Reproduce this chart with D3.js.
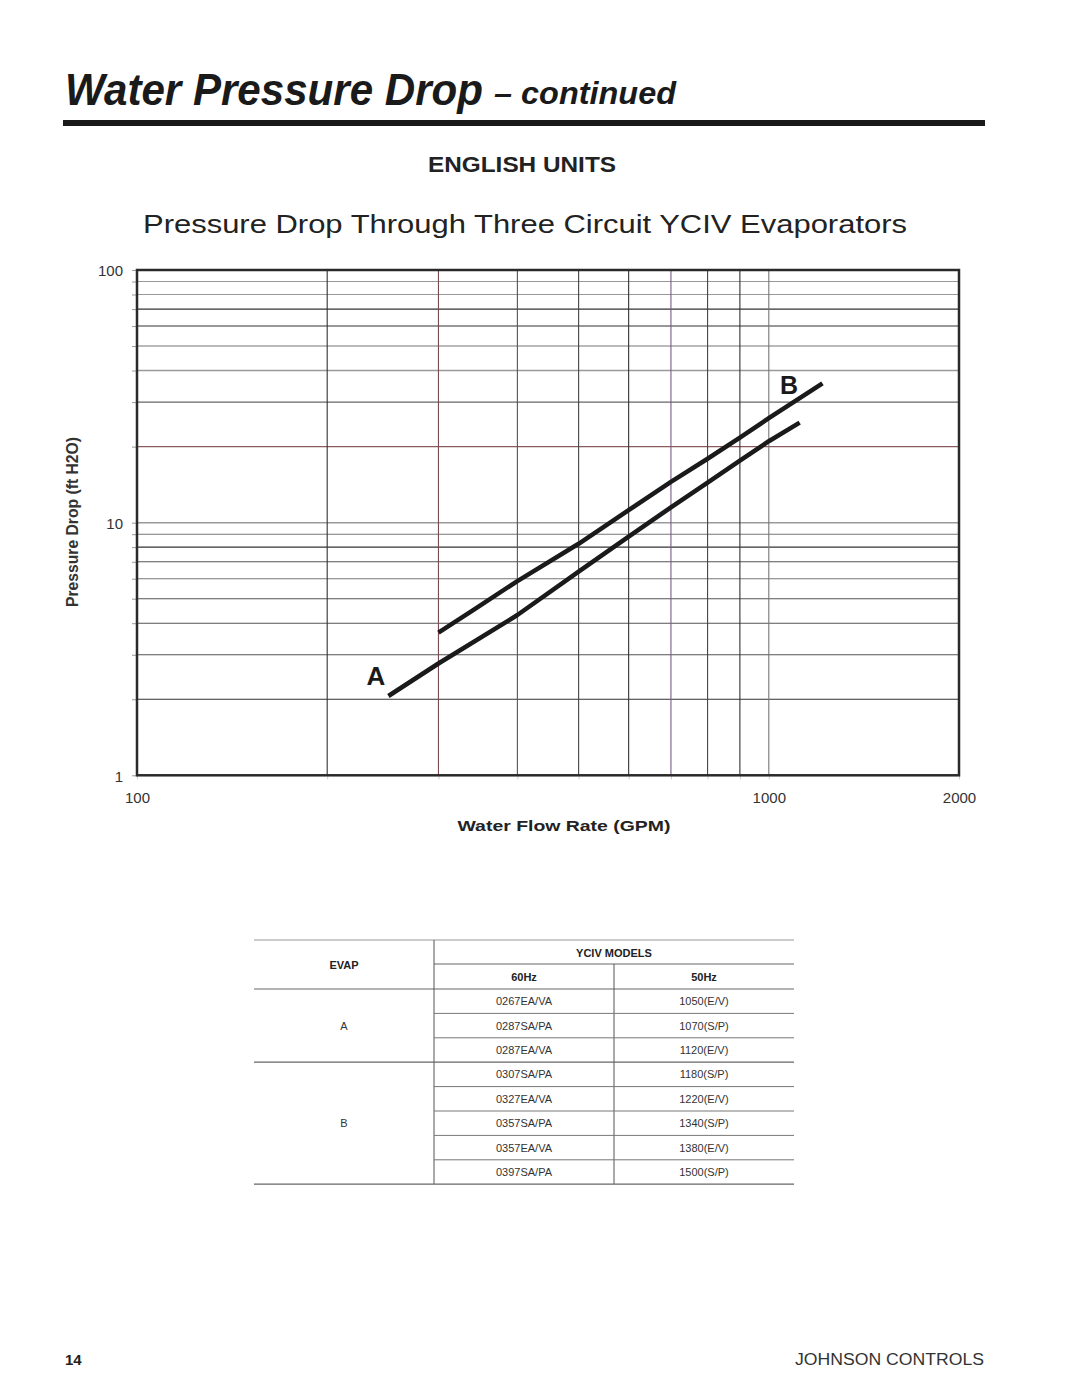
<!DOCTYPE html>
<html><head><meta charset="utf-8">
<script src="https://cdn.jsdelivr.net/npm/d3@7"></script>
<style>body{margin:0;background:#fff}svg{display:block}</style>
</head><body>
<script>
// ---------- data ----------
const flowGridValues = [200,300,400,500,600,700,800,900,1000];
const dropGridValues = [2,3,4,5,6,7,8,9,10,20,30,40,50,60,70,80,90];
const xTickLabels = [100,1000,2000];
const yTickLabels = [1,10,100];
const curveA_flow = [250,300,400,500,600,700,800,900,1000,1119];
const curveA_drop = [2.06,2.77,4.31,6.40,8.80,11.5,14.4,17.6,21.0,24.9];
const curveB_flow = [300,340,400,500,600,700,800,900,1000,1216];
const curveB_drop = [3.67,4.50,5.87,8.25,11.2,14.5,17.9,21.7,25.9,35.6];
const tableEvap = ["A","B"];
const tableRows60 = ["0267EA/VA","0287SA/PA","0287EA/VA","0307SA/PA","0327EA/VA","0357SA/PA","0357EA/VA","0397SA/PA"];
const tableRows50 = ["1050(E/V)","1070(S/P)","1120(E/V)","1180(S/P)","1220(E/V)","1340(S/P)","1380(E/V)","1500(S/P)"];
const tableGroupOf = ["A","A","A","B","B","B","B","B"];

// ---------- styles (separate from data) ----------
const vGridColor = {200:"#333",300:"#7a4a52",400:"#555",500:"#444",600:"#333",700:"#7a5a86",800:"#444",900:"#333",1000:"#777"};
const hGridColor = {2:"#333",3:"#555",4:"#555",5:"#555",6:"#777",7:"#555",8:"#333",9:"#777",10:"#999",20:"#8a5a5e",30:"#666",40:"#999",50:"#777",60:"#333",70:"#333",80:"#999",90:"#999"};

const W=1080,H=1397;
const svg=d3.select("body").append("svg").attr("width",W).attr("height",H);
const narrow='"Liberation Sans Narrow","Arial Narrow","Liberation Sans",Arial,sans-serif';
const sans='"Liberation Sans",Arial,Helvetica,sans-serif';

// header
svg.append("text").attr("x",65).attr("y",105).attr("font-family",narrow).attr("font-weight","bold")
  .attr("font-style","italic").attr("font-size",44).attr("fill","#1a1a1a")
  .attr("textLength",418).attr("lengthAdjust","spacingAndGlyphs").text("Water Pressure Drop");
svg.append("text").attr("x",494).attr("y",104).attr("font-family",narrow).attr("font-weight","bold")
  .attr("font-style","italic").attr("font-size",31).attr("fill","#1a1a1a")
  .attr("textLength",182).attr("lengthAdjust","spacingAndGlyphs").text("– continued");
svg.append("rect").attr("x",63).attr("y",120).attr("width",922).attr("height",6).attr("fill","#1a1a1a");
svg.append("text").attr("x",522).attr("y",172).attr("text-anchor","middle").attr("font-family",narrow)
  .attr("font-weight","bold").attr("font-size",22).attr("fill","#222")
  .attr("textLength",188).attr("lengthAdjust","spacingAndGlyphs").text("ENGLISH UNITS");
svg.append("text").attr("x",525).attr("y",233).attr("text-anchor","middle").attr("font-family",sans)
  .attr("font-size",26).attr("fill","#222")
  .attr("textLength",764).attr("lengthAdjust","spacingAndGlyphs").text("Pressure Drop Through Three Circuit YCIV Evaporators");

// chart
const x=d3.scaleLog().domain([100,2000]).range([137,959]);
const y=d3.scaleLog().domain([1,100]).range([775.3,270]);
const g=svg.append("g");

// gridlines
g.selectAll("line.h").data(dropGridValues).join("line").attr("class","h")
  .attr("x1",x(100)).attr("x2",x(2000)).attr("y1",d=>y(d)).attr("y2",d=>y(d))
  .attr("stroke",d=>hGridColor[d]).attr("stroke-width",d=>d===40||d===10?1.5:1.1);
g.selectAll("line.v").data(flowGridValues).join("line").attr("class","v")
  .attr("y1",y(1)).attr("y2",y(100)).attr("x1",d=>x(d)).attr("x2",d=>x(d))
  .attr("stroke",d=>vGridColor[d]).attr("stroke-width",1.1);

// axes
const yTicks=Array.from(new Set(yTickLabels.concat(dropGridValues))).sort((a,b)=>a-b);
const yAxis=d3.axisLeft(y).tickValues(yTicks).tickSize(5)
  .tickFormat(d=>yTickLabels.includes(d)?d3.format("d")(d):"");
const ya=g.append("g").attr("transform",`translate(${x(100)},0)`).call(yAxis);
ya.select(".domain").remove();
ya.selectAll(".tick line").attr("stroke","#999");
ya.selectAll(".tick text").attr("font-family",sans).attr("font-size",15).attr("fill","#333").attr("dx",-6).attr("dy","0.38em");

const xTicks=Array.from(new Set(xTickLabels.concat(flowGridValues))).sort((a,b)=>a-b);
const xAxis=d3.axisBottom(x).tickValues(xTicks).tickSize(4)
  .tickFormat(d=>xTickLabels.includes(d)?d3.format("d")(d):"");
const xa=g.append("g").attr("transform",`translate(0,${y(1)})`).call(xAxis);
xa.select(".domain").remove();
xa.selectAll(".tick line").attr("stroke","#ccc");
xa.selectAll(".tick text").attr("font-family",sans).attr("font-size",15).attr("fill","#333").attr("dy","1.35em");

// frame
g.append("rect").attr("x",x(100)).attr("y",y(100)).attr("width",x(2000)-x(100)).attr("height",y(1)-y(100))
  .attr("fill","none").attr("stroke","#2a2a2a").attr("stroke-width",2.5);

// axis titles
svg.append("text").attr("transform",`translate(78,522) rotate(-90)`).attr("text-anchor","middle")
  .attr("font-family",narrow).attr("font-weight","bold").attr("font-size",16).attr("fill","#333")
  .attr("textLength",170).attr("lengthAdjust","spacingAndGlyphs").text("Pressure Drop (ft H2O)");
svg.append("text").attr("x",564).attr("y",831).attr("text-anchor","middle")
  .attr("font-family",sans).attr("font-weight","bold").attr("font-size",14).attr("fill","#222")
  .attr("textLength",213).attr("lengthAdjust","spacingAndGlyphs").text("Water Flow Rate (GPM)");

// curves
const line=d3.line().x(d=>x(d[0])).y(d=>y(d[1])).curve(d3.curveLinear);
const curves=[
  {name:"A",pts:d3.zip(curveA_flow,curveA_drop)},
  {name:"B",pts:d3.zip(curveB_flow,curveB_drop)}
];
g.selectAll("path.curve").data(curves).join("path").attr("class","curve")
  .attr("d",d=>line(d.pts)).attr("fill","none").attr("stroke","#1a1a1a").attr("stroke-width",4.5)
  .attr("stroke-linejoin","round");

// curve labels
svg.append("text").attr("x",376).attr("y",685).attr("text-anchor","middle").attr("font-family",sans)
  .attr("font-weight","bold").attr("font-size",26).attr("fill","#1a1a1a").text("A");
svg.append("text").attr("x",789).attr("y",394).attr("text-anchor","middle").attr("font-family",sans)
  .attr("font-weight","bold").attr("font-size",25).attr("fill","#1a1a1a").text("B");

// ---------- table ----------
const tL=254,tR=794,c1=434,c2=614,tTop=940,hMid=964,hBot=989,rowH=24.4;
const tg=svg.append("g").attr("font-family",sans).attr("fill","#333");
const hl=(x1,x2,yy,col,w)=>tg.append("line").attr("x1",x1).attr("x2",x2).attr("y1",yy).attr("y2",yy).attr("stroke",col).attr("stroke-width",w);
const vl=(xx,y1,y2)=>tg.append("line").attr("x1",xx).attr("x2",xx).attr("y1",y1).attr("y2",y2).attr("stroke","#555").attr("stroke-width",1);
hl(tL,tR,tTop,"#999",1.2);
hl(c1,tR,hMid,"#666",1);
hl(tL,tR,hBot,"#666",1.2);
const nRows=tableRows60.length, tBot=hBot+rowH*nRows;
vl(c1,tTop,tBot); vl(c2,hMid,tBot);
tg.append("text").attr("x",(tL+c1)/2).attr("y",969).attr("text-anchor","middle").attr("font-weight","bold").attr("font-size",11).attr("fill","#222").text("EVAP");
tg.append("text").attr("x",(c1+tR)/2).attr("y",957).attr("text-anchor","middle").attr("font-weight","bold").attr("font-size",11).attr("fill","#222").text("YCIV MODELS");
tg.append("text").attr("x",(c1+c2)/2).attr("y",981).attr("text-anchor","middle").attr("font-weight","bold").attr("font-size",11).attr("fill","#222").text("60Hz");
tg.append("text").attr("x",(c2+tR)/2).attr("y",981).attr("text-anchor","middle").attr("font-weight","bold").attr("font-size",11).attr("fill","#222").text("50Hz");
tableRows60.forEach((r,i)=>{
  const yTop=hBot+rowH*i, yc=yTop+rowH/2;
  tg.append("text").attr("x",(c1+c2)/2).attr("y",yc+4).attr("text-anchor","middle").attr("font-size",11).text(r);
  tg.append("text").attr("x",(c2+tR)/2).attr("y",yc+4).attr("text-anchor","middle").attr("font-size",11).text(tableRows50[i]);
  if(i<nRows-1){
    const groupEnd = tableGroupOf[i]!==tableGroupOf[i+1];
    if(groupEnd) hl(tL,tR,yTop+rowH,"#666",1.2);
    else hl(c1,tR,yTop+rowH,"#777",1);
  }
});
hl(tL,tR,tBot,"#666",1.2);
tableEvap.forEach(e=>{
  const idx=tableGroupOf.map((g,i)=>g===e?i:-1).filter(i=>i>=0);
  const yc=hBot+rowH*(idx[0]+idx[idx.length-1]+1)/2;
  tg.append("text").attr("x",(tL+c1)/2).attr("y",yc+4).attr("text-anchor","middle").attr("font-size",11).text(e);
});

// footer
svg.append("text").attr("x",65).attr("y",1365).attr("font-family",narrow).attr("font-weight","bold").attr("font-size",15).attr("fill","#222").text("14");
svg.append("text").attr("x",984).attr("y",1365).attr("text-anchor","end").attr("font-family",narrow).attr("font-size",16).attr("fill","#333")
  .attr("textLength",189).attr("lengthAdjust","spacingAndGlyphs").text("JOHNSON CONTROLS");
</script>
</body></html>
